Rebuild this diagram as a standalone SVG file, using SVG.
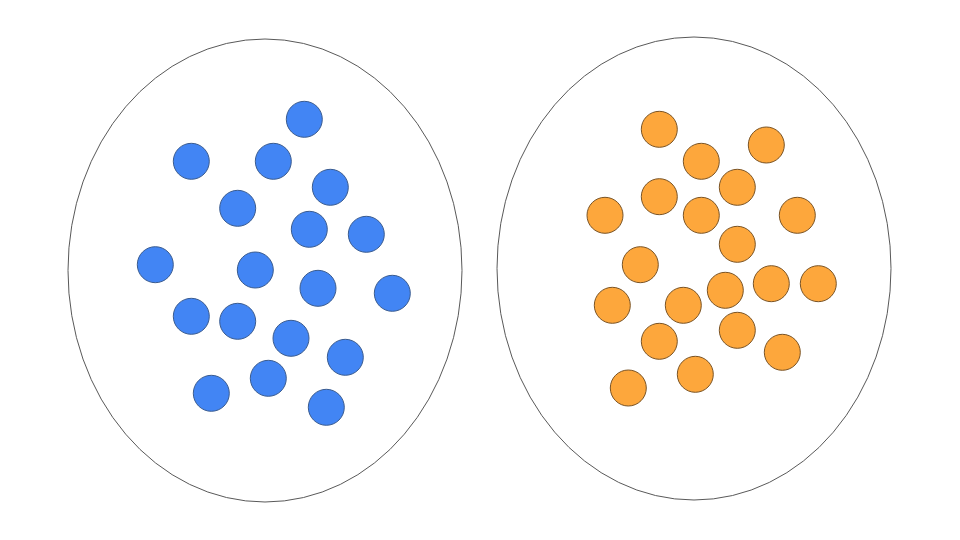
<svg xmlns="http://www.w3.org/2000/svg" width="960" height="540" viewBox="0 0 960 540">
<style>
.set{fill:none;stroke:#595959;stroke-width:1}
.b{fill:#4285f4;stroke:#3b5c8f;stroke-width:1}
.o{fill:#fda73c;stroke:#7a5426;stroke-width:1}
</style>
<rect width="960" height="540" fill="#ffffff"/>
<g id="setA"><ellipse class="set" cx="265" cy="270.5" rx="197" ry="231.5"/></g>
<g id="setB"><ellipse class="set" cx="694" cy="268.5" rx="197" ry="231.5"/></g>
<g id="blue">
<circle class="b" cx="304.3" cy="119.3" r="18"/>
<circle class="b" cx="191.3" cy="161.3" r="18"/>
<circle class="b" cx="273.3" cy="161.3" r="18"/>
<circle class="b" cx="330.3" cy="187.3" r="18"/>
<circle class="b" cx="237.7" cy="208.3" r="18"/>
<circle class="b" cx="309.3" cy="229.3" r="18"/>
<circle class="b" cx="366.3" cy="234.3" r="18"/>
<circle class="b" cx="155.3" cy="264.7" r="18"/>
<circle class="b" cx="255.3" cy="270" r="18"/>
<circle class="b" cx="318" cy="288.3" r="18"/>
<circle class="b" cx="392.3" cy="293.3" r="18"/>
<circle class="b" cx="191.3" cy="316.3" r="18"/>
<circle class="b" cx="237.7" cy="321.3" r="18"/>
<circle class="b" cx="291" cy="338.3" r="18"/>
<circle class="b" cx="345.3" cy="357.3" r="18"/>
<circle class="b" cx="268.3" cy="378.3" r="18"/>
<circle class="b" cx="211.3" cy="393.3" r="18"/>
<circle class="b" cx="326.3" cy="407.3" r="18"/>
</g>
<g id="orange">
<circle class="o" cx="659.3" cy="129.3" r="18"/>
<circle class="o" cx="766.3" cy="145" r="18"/>
<circle class="o" cx="701.3" cy="161.3" r="18"/>
<circle class="o" cx="737.3" cy="187.3" r="18"/>
<circle class="o" cx="659.3" cy="196.7" r="18"/>
<circle class="o" cx="605" cy="215.3" r="18"/>
<circle class="o" cx="701.3" cy="215.3" r="18"/>
<circle class="o" cx="797.3" cy="215.3" r="18"/>
<circle class="o" cx="737.3" cy="244.3" r="18"/>
<circle class="o" cx="640.3" cy="264.7" r="18"/>
<circle class="o" cx="771.3" cy="283.7" r="18"/>
<circle class="o" cx="818.3" cy="283.7" r="18"/>
<circle class="o" cx="725.3" cy="290.3" r="18"/>
<circle class="o" cx="612.3" cy="305.3" r="18"/>
<circle class="o" cx="683.3" cy="305.3" r="18"/>
<circle class="o" cx="737.3" cy="330.3" r="18"/>
<circle class="o" cx="659.3" cy="341.3" r="18"/>
<circle class="o" cx="782.3" cy="352.3" r="18"/>
<circle class="o" cx="695.3" cy="374.3" r="18"/>
<circle class="o" cx="628.3" cy="388" r="18"/>
</g>
</svg>
